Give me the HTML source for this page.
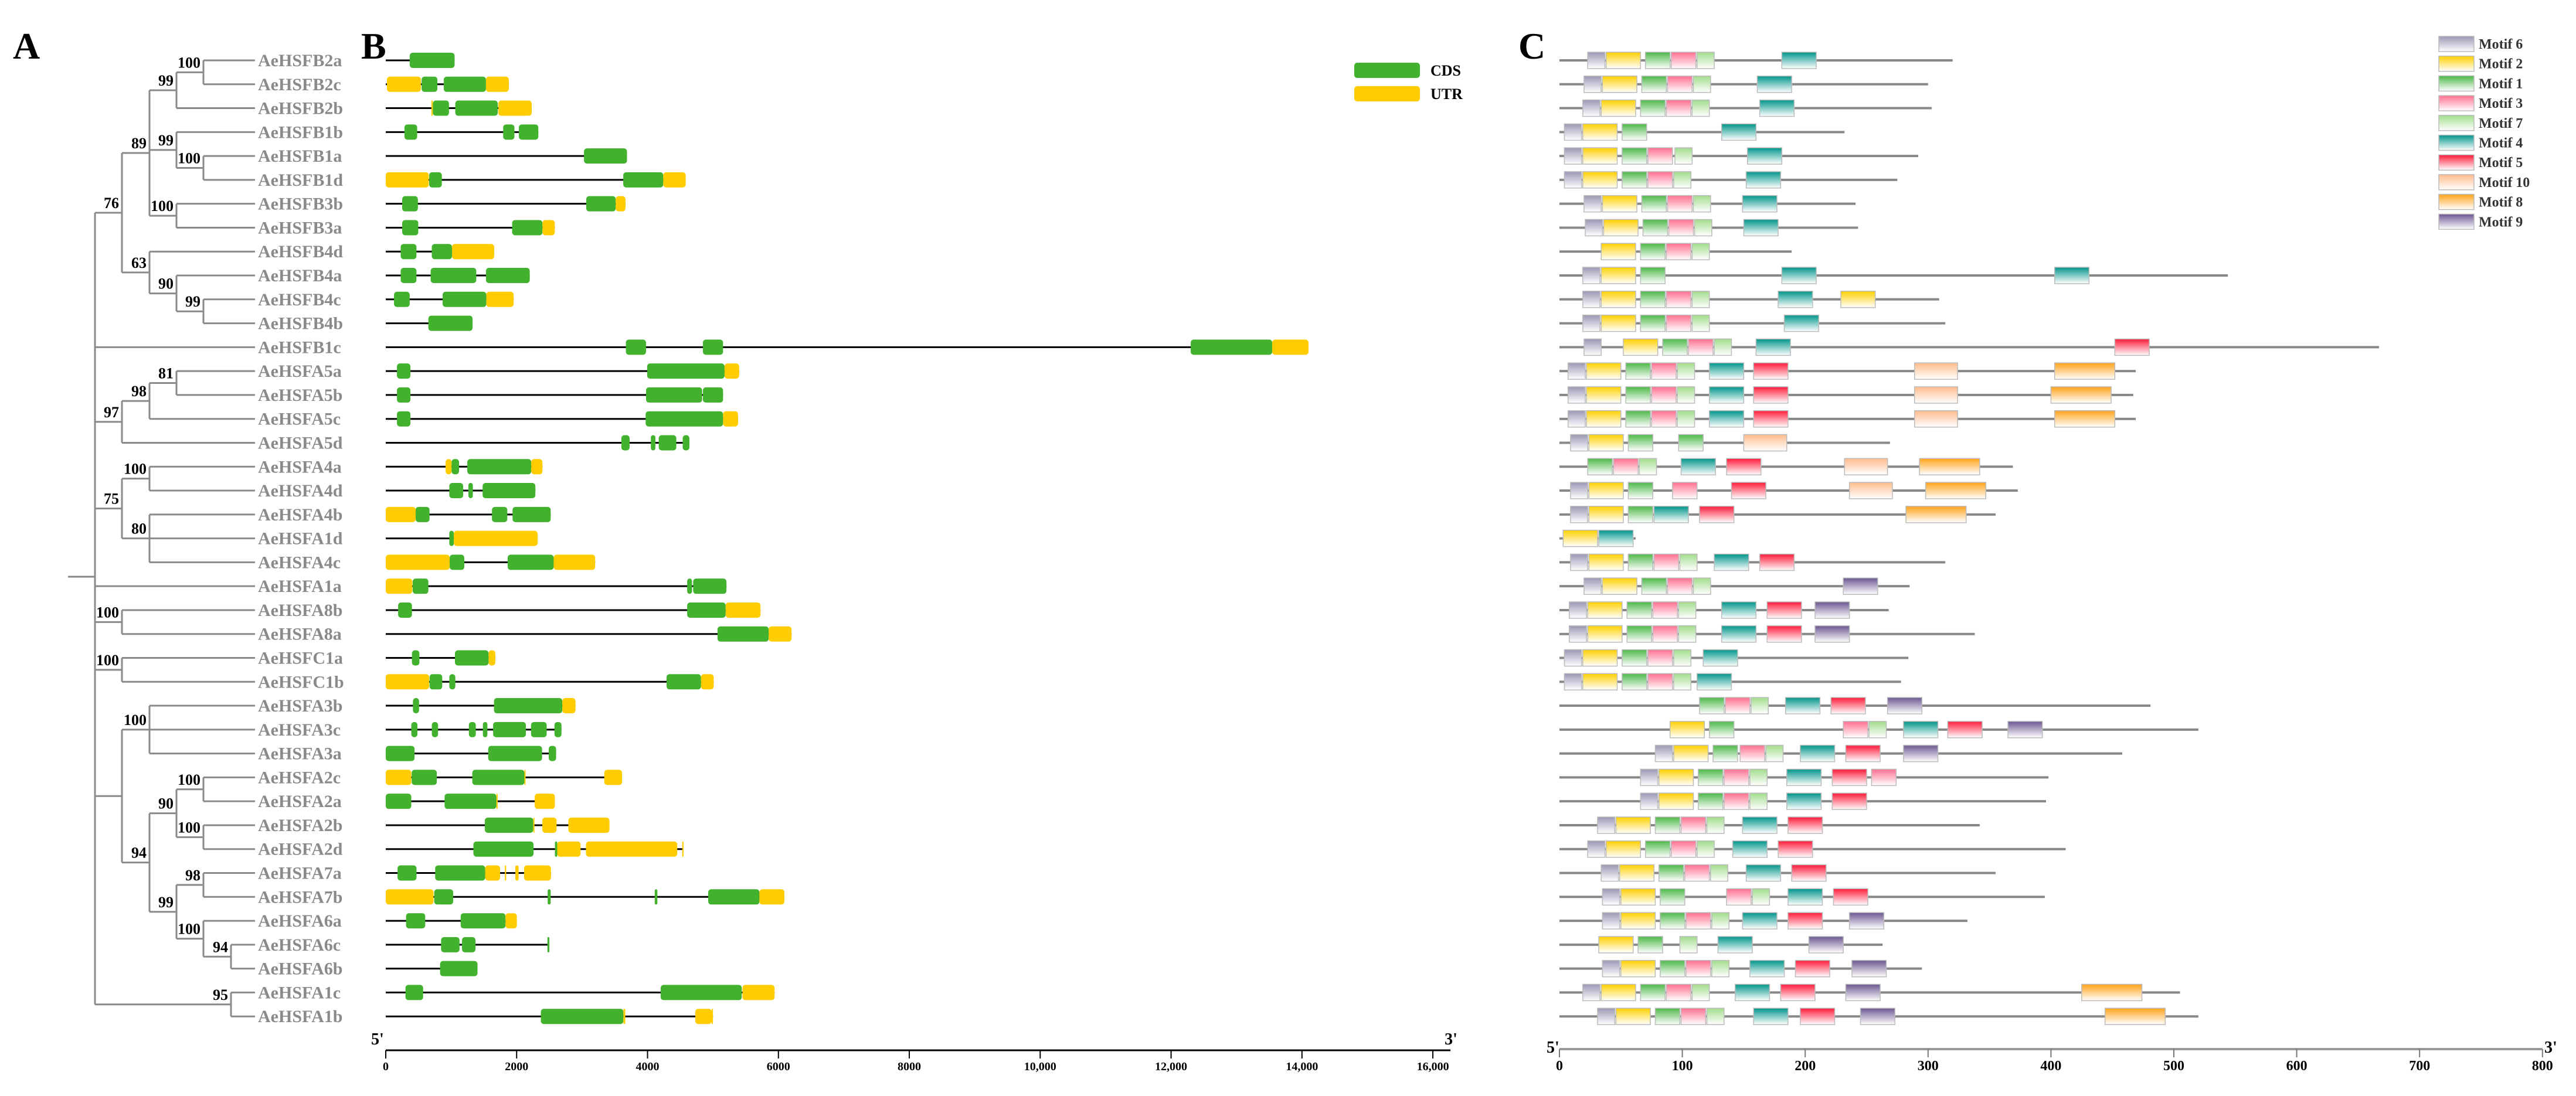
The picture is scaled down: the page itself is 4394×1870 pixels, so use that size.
<!DOCTYPE html>
<html><head><meta charset="utf-8"><title>AeHSF gene family</title>
<style>
html,body{margin:0;padding:0;background:#fff;}
svg{display:block;}
.lbl{font-family:"Liberation Serif",serif;font-weight:bold;}
</style></head>
<body>
<svg id="fig" xmlns="http://www.w3.org/2000/svg" width="4394" height="1870" viewBox="0 0 4394 1870">
<defs id="defs"></defs>
<text class="lbl" x="22" y="100" font-size="64">A</text>
<text class="lbl" x="616" y="100" font-size="64">B</text>
<text class="lbl" x="2590" y="100" font-size="64">C</text>
<g id="tree"></g>
<g id="genes"></g>
<g id="motifs"></g>
</svg>
<script>
// ---------- shared data ----------
const geneNames = ["AeHSFB2a","AeHSFB2c","AeHSFB2b","AeHSFB1b","AeHSFB1a","AeHSFB1d","AeHSFB3b","AeHSFB3a","AeHSFB4d","AeHSFB4a","AeHSFB4c","AeHSFB4b","AeHSFB1c","AeHSFA5a","AeHSFA5b","AeHSFA5c","AeHSFA5d","AeHSFA4a","AeHSFA4d","AeHSFA4b","AeHSFA1d","AeHSFA4c","AeHSFA1a","AeHSFA8b","AeHSFA8a","AeHSFC1a","AeHSFC1b","AeHSFA3b","AeHSFA3c","AeHSFA3a","AeHSFA2c","AeHSFA2a","AeHSFA2b","AeHSFA2d","AeHSFA7a","AeHSFA7b","AeHSFA6a","AeHSFA6c","AeHSFA6b","AeHSFA1c","AeHSFA1b"];
const treeTopology = {x:0,c:[
 {x:1,b:"76",c:[
   {x:2,b:"89",c:[
     {x:3,b:"99",c:[{x:4,b:"100",c:[0,1]},2]},
     {x:3,b:"99",c:[3,{x:4,b:"100",c:[4,5]}]},
     {x:3,b:"100",c:[6,7]}]},
   {x:2,b:"63",c:[8,{x:3,b:"90",c:[9,{x:4,b:"99",c:[10,11]}]}]}]},
 12,
 {x:1,b:"97",c:[{x:2,b:"98",c:[{x:3,b:"81",c:[13,14]},15]},16]},
 {x:1,b:"75",c:[{x:2,b:"100",c:[17,18]},{x:2,b:"80",c:[19,20,21]}]},
 22,
 {x:1,b:"100",c:[23,24]},
 {x:1,b:"100",c:[25,26]},
 {x:1,c:[{x:2,b:"100",c:[27,28,29]},{x:2,b:"94",c:[{x:3,b:"90",c:[{x:4,b:"100",c:[30,31]},{x:4,b:"100",c:[32,33]}]},{x:3,b:"99",c:[{x:4,b:"98",c:[34,35]},{x:4,b:"100",c:[36,{x:5,b:"94",c:[37,38]}]}]}]}]},
 {x:5,b:"95",c:[39,40]}
]};
// gene structure: [type, start bp, end bp]; C = CDS, U = UTR
const geneFeatures = [
 [["C",366,1052]],
 [["U",18,537],["C",548,789],["C",886,1531],["U",1531,1880]],
 [["U",697,720],["C",720,966],["C",1062,1711],["U",1720,2230]],
 [["C",286,480],["C",1794,1966],["C",2034,2331]],
 [["C",3029,3686]],
 [["U",0,657],["C",663,857],["C",3629,4240],["U",4240,4583]],
 [["C",251,491],["C",3063,3514],["U",3514,3663]],
 [["C",251,497],["C",1931,2394],["U",2394,2583]],
 [["C",228,469],["C",703,1012],["U",1012,1657]],
 [["C",228,469],["C",686,1383],["C",1531,2200]],
 [["C",126,366],["C",869,1537],["U",1537,1954]],
 [["C",651,1326]],
 [["C",3669,3977],["C",4846,5154],["C",12300,13545],["U",13545,14100]],
 [["C",171,377],["C",3994,5177],["U",5177,5400]],
 [["C",171,377],["C",3977,4834],["C",4846,5154]],
 [["C",171,377],["C",3971,5154],["U",5154,5383]],
 [["C",3600,3726],["C",4051,4120],["C",4171,4440],["C",4537,4640]],
 [["U",914,1006],["C",1006,1120],["C",1246,2223],["U",2223,2394]],
 [["C",971,1183],["C",1263,1331],["C",1480,2286]],
 [["U",0,457],["C",457,669],["C",1623,1857],["C",1937,2520]],
 [["C",971,1040],["U",1040,2320]],
 [["U",0,977],["C",977,1200],["C",1863,2566],["U",2566,3200]],
 [["U",0,406],["C",411,651],["C",4606,4680],["C",4697,5206]],
 [["C",189,400],["C",4606,5194],["U",5194,5726]],
 [["C",5069,5851],["U",5851,6200]],
 [["C",400,514],["C",1057,1571],["U",1571,1674]],
 [["U",0,663],["C",669,863],["C",971,1063],["C",4291,4817],["U",4817,5011]],
 [["C",415,509],["C",1654,2698],["U",2698,2899]],
 [["C",390,484],["C",704,799],["C",1270,1376],["C",1484,1553],["C",1640,2141],["C",2220,2459],["C",2578,2685]],
 [["C",0,440],["C",1565,2389],["C",2490,2603]],
 [["U",0,390],["C",396,780],["C",1322,2119],["U",2119,2136],["U",3339,3610]],
 [["C",0,390],["C",899,1691],["U",1691,1710],["U",2276,2584]],
 [["C",1514,2254],["U",2254,2270],["U",2392,2610],["U",2790,3418]],
 [["C",1339,2258],["C",2585,2620],["U",2620,2977],["U",3059,4454],["U",4530,4550]],
 [["C",180,470],["C",755,1519],["U",1519,1747],["U",1820,1840],["U",1980,2030],["U",2113,2524]],
 [["U",0,730],["C",740,1030],["C",2474,2520],["C",4110,4150],["C",4927,5710],["U",5710,6091]],
 [["C",310,603],["C",1145,1830],["U",1830,2003]],
 [["C",845,1127],["C",1165,1371],["C",2470,2500]],
 [["C",830,1402]],
 [["C",301,571],["C",4201,5440],["U",5450,5941]],
 [["C",2370,3631],["U",3631,3660],["U",4730,4980],["U",4980,5000]]
];
const bpTicks = [0,2000,4000,6000,8000,10000,12000,14000,16000];
const bpTickLabels = ["0","2000","4000","6000","8000","10,000","12,000","14,000","16,000"];
// protein lengths (aa)
const proteinLengths = [320,300,303,232,292,275,241,243,189,544,309,314,667,469,467,469,269,369,373,355,62,314,285,268,338,284,278,481,520,458,398,396,342,412,355,395,332,263,295,505,520];
// motif hits: [motif id, start aa]
const motifHits = [
 [[6,23],[2,38],[1,70],[3,91],[7,112],[4,181]],
 [[6,20],[2,35],[1,67],[3,88],[7,109],[4,161]],
 [[6,19],[2,34],[1,66],[3,87],[7,108],[4,163]],
 [[6,4],[2,19],[1,51],[4,132]],
 [[6,4],[2,19],[1,51],[3,72],[7,94],[4,153]],
 [[6,4],[2,19],[1,51],[3,72],[7,93],[4,152]],
 [[6,20],[2,35],[1,67],[3,88],[7,109],[4,149]],
 [[6,21],[2,36],[1,68],[3,89],[7,110],[4,150]],
 [[2,34],[1,66],[3,87],[7,108]],
 [[6,19],[2,34],[1,66],[4,181],[4,403]],
 [[6,19],[2,34],[1,66],[3,87],[7,108],[4,178],[2,229]],
 [[6,19],[2,34],[1,66],[3,87],[7,108],[4,183]],
 [[6,20],[2,52],[1,84],[3,105],[7,126],[4,160],[5,452]],
 [[6,7],[2,22],[1,54],[3,75],[7,96],[4,122],[5,158],[10,289],[8,403]],
 [[6,7],[2,22],[1,54],[3,75],[7,96],[4,122],[5,158],[10,289],[8,400]],
 [[6,7],[2,22],[1,54],[3,75],[7,96],[4,122],[5,158],[10,289],[8,403]],
 [[6,9],[2,24],[1,56],[1,97],[10,150]],
 [[1,23],[3,44],[7,65],[4,99],[5,136],[10,232],[8,293]],
 [[6,9],[2,24],[1,56],[3,92],[5,140],[10,236],[8,298]],
 [[6,9],[2,24],[1,56],[4,77],[5,114],[8,282]],
 [[2,3],[4,32]],
 [[6,9],[2,24],[1,56],[3,77],[7,98],[4,126],[5,163]],
 [[6,20],[2,35],[1,67],[3,88],[7,109],[9,231]],
 [[6,8],[2,23],[1,55],[3,76],[7,97],[4,132],[5,169],[9,208]],
 [[6,8],[2,23],[1,55],[3,76],[7,97],[4,132],[5,169],[9,208]],
 [[6,4],[2,19],[1,51],[3,72],[7,93],[4,117]],
 [[6,4],[2,19],[1,51],[3,72],[7,93],[4,112]],
 [[1,114],[3,135],[7,156],[4,184],[5,221],[9,267]],
 [[2,90],[1,122],[3,231],[7,252],[4,280],[5,316],[9,365]],
 [[6,78],[2,93],[1,125],[3,147],[7,168],[4,196],[5,233],[9,280]],
 [[6,66],[2,81],[1,113],[3,134],[7,155],[4,185],[5,222],[3,254]],
 [[6,66],[2,81],[1,113],[3,134],[7,155],[4,185],[5,222]],
 [[6,31],[2,46],[1,78],[3,99],[7,120],[4,149],[5,186]],
 [[6,23],[2,38],[1,70],[3,91],[7,112],[4,141],[5,178]],
 [[6,34],[2,49],[1,81],[3,102],[7,123],[4,152],[5,189]],
 [[6,35],[2,50],[1,82],[3,136],[7,157],[4,186],[5,223]],
 [[6,35],[2,50],[1,82],[3,103],[7,124],[4,149],[5,186],[9,236]],
 [[2,32],[1,64],[7,98],[4,129],[9,203]],
 [[6,35],[2,50],[1,82],[3,103],[7,124],[4,155],[5,192],[9,238]],
 [[6,19],[2,34],[1,66],[3,87],[7,108],[4,143],[5,180],[9,233],[8,425]],
 [[6,31],[2,46],[1,78],[3,99],[7,120],[4,158],[5,196],[9,245],[8,444]]
];
const legendMotifs = [6,2,1,3,7,4,5,10,8,9];
const aaTicks = [0,100,200,300,400,500,600,700,800];
</script>
<script>
const NS = "http://www.w3.org/2000/svg";
function mk(tag, attrs, parent){ const e=document.createElementNS(NS,tag); for(const k in attrs) e.setAttribute(k,attrs[k]); parent.appendChild(e); return e; }
const rowY = i => 103 + i*40.78;
const levelX = [162,208,255,301,347,394];
const tipX = 435;
const treeColor = "#8a8a8a";

// motif styles
const motifColor = {6:"#9b97b5",2:"#ffd000",1:"#4cb848",3:"#ff6f8f",7:"#a2dc8c",4:"#00958a",5:"#ff1a3a",10:"#ffbb8c",8:"#ffa31a",9:"#6b5691"};
const motifLen = {6:14,2:28,1:20,3:20,7:14,4:28,5:28,10:35,8:49,9:28};
const defs = document.getElementById("defs");
for(const m in motifColor){
  const g = mk("linearGradient",{id:"g"+m,x1:0,y1:0,x2:0,y2:1},defs);
  mk("stop",{offset:"0","stop-color":motifColor[m]},g);
  mk("stop",{offset:"1","stop-color":"#ffffff"},g);
}

// ---------- Panel A: tree ----------
const tree = document.getElementById("tree");
function layout(n){
  if(typeof n === "number") return rowY(n);
  const ys = n.c.map(layout);
  n.cy = ys; n.y = (ys[0]+ys[ys.length-1])/2; return n.y;
}
layout(treeTopology);
treeTopology.y = 984;
function drawNode(n){
  const x = levelX[n.x];
  const v = mk("line",{x1:x,y1:n.cy[0],x2:x,y2:n.cy[n.cy.length-1],stroke:treeColor,"stroke-width":3},tree);
  
  
  n.c.forEach((ch,k)=>{
    const y = n.cy[k];
    const x2 = (typeof ch === "number") ? tipX : levelX[ch.x];
    const h = mk("line",{x1:x,y1:y,x2:x2,y2:y,stroke:treeColor,"stroke-width":3},tree);
    
    
    if(typeof ch !== "number") drawNode(ch);
  });
  if(n.b){
    const t = mk("text",{x:x-5,y:n.y-8,"text-anchor":"end","font-size":26,fill:"#000",class:"lbl"},tree);
    t.textContent = n.b;
    
    
  }
}
drawNode(treeTopology);
const stub = mk("line",{x1:116,y1:treeTopology.y,x2:162,y2:treeTopology.y,stroke:treeColor,"stroke-width":3},tree);


geneNames.forEach((nm,i)=>{
  const t = mk("text",{x:440,y:rowY(i)+10,"font-size":30,fill:"#8a8a8a",class:"lbl"},tree);
  t.textContent = nm;
  
  
});

// ---------- Panel B: gene structures ----------
const gB = document.getElementById("genes");
const bx0 = 658, bpScale = 0.11163;
const xB = bp => bx0 + bp*bpScale;
geneFeatures.forEach((feats,i)=>{
  const y = rowY(i);
  const end = Math.max(...feats.map(f=>f[2]));
  const ln = mk("line",{x1:xB(0),y1:y,x2:xB(end),y2:y,stroke:"#000","stroke-width":3},gB);
  
  
  feats.forEach(f=>{
    const w = Math.max(2,(f[2]-f[1])*bpScale);
    const r = mk("rect",{x:xB(f[1]),y:y-13,width:w,height:26,rx:Math.min(5,w/2),fill:f[0]==="C"?"#42b12e":"#ffcc00"},gB);
    
    
  });
});
// axis B
const axB = 1792;
const axl = mk("line",{x1:xB(0),y1:axB,x2:xB(16000)+30,y2:axB,stroke:"#000","stroke-width":3},gB);


bpTicks.forEach((v,k)=>{
  const tk = mk("line",{x1:xB(v),y1:axB,x2:xB(v),y2:axB+14,stroke:"#000","stroke-width":2},gB);
  
  
  const t = mk("text",{x:xB(v),y:axB+34,"text-anchor":"middle","font-size":20,fill:"#000",class:"lbl"},gB);
  t.textContent = bpTickLabels[k];
  
  
});
const b5 = mk("text",{x:633,y:1782,"font-size":28,class:"lbl"},gB);
b5.textContent = "5'";


const b3 = mk("text",{x:xB(16000)+20,y:1782,"font-size":28,class:"lbl"},gB);
b3.textContent = "3'";


// legend B
[["CDS","#42b12e",120],["UTR","#ffcc00",160]].forEach(L=>{
  const r = mk("rect",{x:2310,y:L[2]-13,width:112,height:26,rx:5,fill:L[1]},gB);
  
  
  const t = mk("text",{x:2440,y:L[2]+9,"font-size":26,class:"lbl"},gB);
  t.textContent = L[0];
  
  
});

// ---------- Panel C: motifs ----------
const gC = document.getElementById("motifs");
const cx0 = 2660, aaScale = 2.096;
const xC = aa => cx0 + aa*aaScale;
proteinLengths.forEach((len,i)=>{
  const y = rowY(i);
  const ln = mk("line",{x1:xC(0),y1:y,x2:xC(len),y2:y,stroke:"#888","stroke-width":4},gC);
  
  
  motifHits[i].forEach(h=>{
    const r = mk("rect",{x:xC(h[1]),y:y-14,width:motifLen[h[0]]*aaScale,height:28,fill:"url(#g"+h[0]+")",stroke:"#bbb","stroke-width":1.5},gC);
    
    
  });
});
const axC = 1790;
const acl = mk("line",{x1:xC(0),y1:axC,x2:xC(800),y2:axC,stroke:"#999","stroke-width":4},gC);


aaTicks.forEach(v=>{
  const tk = mk("line",{x1:xC(v),y1:axC,x2:xC(v),y2:axC+14,stroke:"#777","stroke-width":2},gC);
  
  
  const t = mk("text",{x:xC(v),y:axC+36,"text-anchor":"middle","font-size":24,class:"lbl"},gC);
  t.textContent = String(v);
  
  
});
const c5 = mk("text",{x:2638,y:1796,"font-size":28,class:"lbl"},gC);
c5.textContent = "5'";


const c3 = mk("text",{x:4340,y:1796,"font-size":28,class:"lbl"},gC);
c3.textContent = "3'";


legendMotifs.forEach((m,k)=>{
  const y = 62 + k*33.7;
  const r = mk("rect",{x:4160,y:y,width:60,height:26,fill:"url(#g"+m+")",stroke:"#bbb","stroke-width":1.5},gC);
  
  
  const t = mk("text",{x:4228,y:y+21,"font-size":24,fill:"#333",class:"lbl"},gC);
  t.textContent = "Motif " + m;
  
  
});
</script>
</body></html>
